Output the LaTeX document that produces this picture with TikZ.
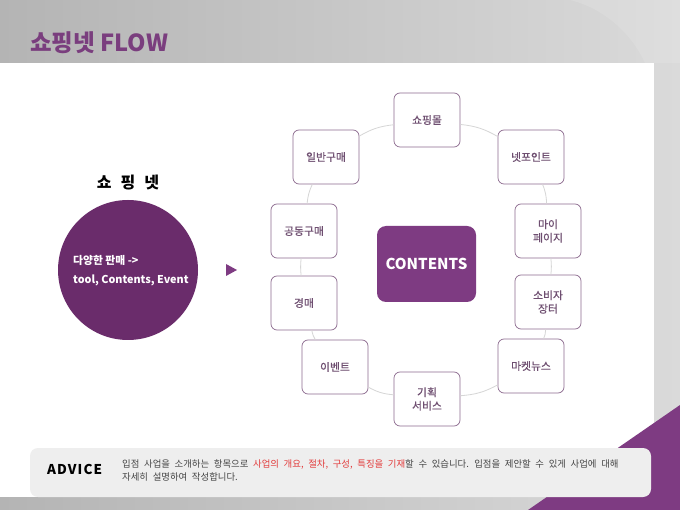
\documentclass[tikz,border=0pt]{standalone}
\usepackage{fontspec}
\setmainfont{Noto Sans CJK KR}
\newfontfamily\advfont[WordSpace=2.2]{Noto Sans CJK KR}
\newfontfamily\boxfont[FakeBold=0.6]{Noto Sans CJK KR}
\definecolor{purp}{HTML}{7E3B82}
\definecolor{darkpurp}{HTML}{6A2C6B}
\definecolor{titlec}{HTML}{7A3E7E}
\definecolor{boxtext}{HTML}{6E4E70}
\definecolor{boxline}{HTML}{8C6A8E}
\definecolor{ringline}{HTML}{D6D6D6}
\definecolor{bgL}{HTML}{B4B4B4}
\definecolor{bgR}{HTML}{DADADA}
\definecolor{advfill}{HTML}{EEEEEE}
\definecolor{advred}{HTML}{E23B3B}
\definecolor{advtext}{HTML}{444444}
\tikzset{
  ringbox/.style={draw=boxline, line width=0.7pt, fill=white, rounded corners=6pt,
    minimum width=66pt, minimum height=54pt, inner sep=0pt, align=center,
    text=boxtext, font=\boxfont\fontsize{10.8}{13.5}\selectfont},
  ringlink/.style={draw=ringline, line width=0.8pt},
}
\begin{document}
\begin{tikzpicture}[x=1pt,y=-1pt]
\useasboundingbox (0,0) rectangle (680,510);
% background
\shade[left color=bgL, right color=bgR] (0,0) rectangle (680,510);
\fill[white, opacity=0.12] (570,0) .. controls (610,10) and (635,40) .. (645,63) -- (680,63) -- (680,0) -- cycle;
\fill[white] (0,63) rectangle (654,497);
% purple corner triangle
\fill[purp] (680,405) -- (680,510) -- (528,510) -- cycle;
% title
\node[anchor=base west, text=titlec, inner sep=0pt, font=\bfseries\fontsize{23.5}{23.5}\selectfont] (title) at (30,52) {쇼핑넷 FLOW};
% left part
\node[font=\bfseries\fontsize{16}{16}\selectfont, text=black] (lbl) at (128,183) {쇼\,\, 핑\,\, 넷};
\node[circle, fill=darkpurp, minimum size=140pt, inner sep=0pt] (circ) at (128,270) {};
\node[anchor=west, text=white, align=left, inner sep=0pt, font=\bfseries\fontsize{10.8}{19}\selectfont] (ctext) at (73,271) {다양한 판매 ->\\tool, Contents, Event};
\fill[purp] (226,264) -- (237,270) -- (226,276) -- cycle;
% ring
\node[ringbox] (n1) at (427,120) {쇼핑몰};
\node[ringbox] (n2) at (531,157) {넷포인트};
\node[ringbox] (n3) at (548,231) {마이\\페이지};
\node[ringbox] (n4) at (548,302) {소비자\\장터};
\node[ringbox] (n5) at (531,366) {마켓뉴스};
\node[ringbox] (n6) at (427,399) {기획\\서비스};
\node[ringbox] (n7) at (335,367) {이벤트};
\node[ringbox] (n8) at (304,303) {경매};
\node[ringbox] (n9) at (304,231) {공동구매};
\node[ringbox] (n10) at (326,157) {일반구매};
\draw[ringlink] (n1) to[bend left=12] (n2);
\draw[ringlink] (n2) to[bend left=10] (n3);
\draw[ringlink] (n3) to[bend left=6] (n4);
\draw[ringlink] (n4) to[bend left=10] (n5);
\draw[ringlink] (n5) to[bend left=12] (n6);
\draw[ringlink] (n6) to[bend left=12] (n7);
\draw[ringlink] (n7) to[bend left=10] (n8);
\draw[ringlink] (n8) to[bend left=6] (n9);
\draw[ringlink] (n9) to[bend left=10] (n10);
\draw[ringlink] (n10) to[bend left=12] (n1);
% center
\node[fill=purp, rounded corners=9pt, minimum width=99pt, minimum height=76pt, text=white,
  font=\bfseries\fontsize{15}{15}\selectfont] (center) at (426.5,264) {CONTENTS};
% advice
\node[fill=advfill, rounded corners=8pt, minimum width=621pt, minimum height=49pt, inner sep=0pt] (adv) at (340.5,472.5) {};
\node[anchor=base west, inner sep=0pt, font=\bfseries\fontsize{13.5}{13.5}\selectfont\addfontfeature{LetterSpace=8}] (advt) at (47,474) {ADVICE};
\node[anchor=north west, inner sep=0pt, align=left, text=advtext, font=\advfont\fontsize{9.4}{13}\selectfont] (advbody) at (122,459)
 {입점 사업을 소개하는 항목으로 \textcolor{advred}{사업의 개요, 절차, 구성, 특징을 기재}할 수 있습니다. 입점을 제안할 수 있게 사업에 대해\\자세히 설명하여 작성합니다.};
\end{tikzpicture}
\end{document}
